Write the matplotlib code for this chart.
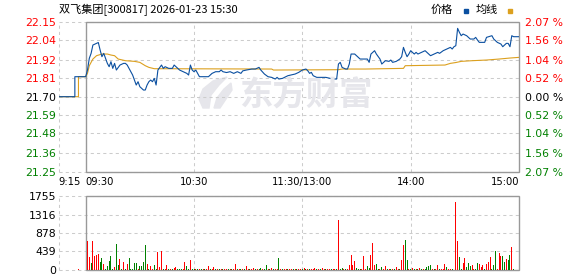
import matplotlib
matplotlib.use("Agg")
import matplotlib.pyplot as plt
from matplotlib.patches import Rectangle, Polygon

plt.rcParams['font.family'] = ['DejaVu Sans', 'Noto Sans CJK SC']

title = "双飞集团[300817] 2026-01-23 15:30"
prev_close = 21.70

# minutes counted from 9:15 (lunch break removed)
time_ticks = [0, 15, 75, 135, 195, 255]
time_labels = ["9:15", "09:30", "10:30", "11:30/13:00", "14:00", "15:00"]

price_ticks = [21.25, 21.36, 21.48, 21.59, 21.70, 21.81, 21.92, 22.04, 22.15]
pct_labels = ["2.07", "1.56", "1.04", "0.52", "0.00", "0.52", "1.04", "1.56", "2.07"]

vol_ticks = [0, 439, 878, 1316, 1755]

# price line (minute, price)
price_t = [0, 9, 9, 15, 16, 17, 18, 19, 21, 22, 23, 24, 25, 26, 27, 28, 29, 30, 31, 32,
           34, 36, 37, 38, 39, 40, 41, 42, 43, 44, 45, 46, 47, 48, 49, 50, 51, 52, 53, 54,
           55, 57, 58, 59, 61, 63, 64, 65, 67, 69, 71, 72, 73, 74, 75, 76, 77, 78, 83, 85,
           87, 89, 90, 91, 93, 95, 97, 99, 101, 102, 104, 107, 109, 111, 112, 114, 116, 118, 120, 121,
           122, 124, 127, 131, 133, 135, 137, 138, 139, 140, 141, 143, 148, 152, 154, 155, 156, 157, 159, 160,
           161, 162, 164, 166, 167, 171, 172, 173, 175, 176, 178, 179, 181, 183, 184, 185, 187, 189, 190, 191,
           192, 193, 194, 195, 196, 197, 198, 199, 201, 203, 204, 206, 208, 210, 211, 213, 215, 217, 218, 219,
           220, 221, 222, 223, 224, 226, 228, 230, 231, 232, 233, 236, 237, 240, 241, 243, 245, 246, 248, 249,
           250, 251, 252, 253, 255]
price_v = [21.70, 21.70, 21.82, 21.82, 21.86, 21.93, 21.96, 22.01, 22.02, 22.025, 21.98, 21.94, 21.96, 21.93, 21.90, 21.88, 21.91, 21.87, 21.90, 21.86,
           21.89, 21.90, 21.90, 21.89, 21.87, 21.85, 21.83, 21.80, 21.77, 21.79, 21.76, 21.75, 21.74, 21.74, 21.77, 21.79, 21.80, 21.79, 21.81, 21.77,
           21.86, 21.89, 21.87, 21.88, 21.87, 21.87, 21.89, 21.88, 21.86, 21.85, 21.84, 21.83, 21.89, 21.86, 21.85, 21.86, 21.84, 21.82, 21.82, 21.84,
           21.85, 21.85, 21.86, 21.85, 21.845, 21.85, 21.84, 21.85, 21.84, 21.855, 21.86, 21.866, 21.866, 21.876, 21.86, 21.836, 21.82, 21.816, 21.806, 21.816,
           21.806, 21.81, 21.826, 21.836, 21.846, 21.86, 21.866, 21.856, 21.84, 21.846, 21.826, 21.816, 21.816, 21.806, 21.806, 21.896, 21.906, 21.876, 21.866, 21.866,
           21.896, 21.956, 21.956, 21.936, 21.926, 21.926, 21.906, 21.956, 21.976, 21.956, 21.926, 21.896, 21.916, 21.912, 21.92, 21.906, 21.912, 21.926, 21.94, 21.996,
           21.966, 21.94, 21.956, 21.976, 21.966, 21.956, 21.966, 21.956, 21.966, 21.976, 21.966, 21.946, 21.956, 21.966, 21.96, 21.976, 21.986, 21.996, 21.986, 22.0,
           22.006, 22.11, 22.086, 22.066, 22.076, 22.066, 22.046, 22.046, 22.056, 22.04, 22.026, 22.026, 22.056, 22.066, 22.046, 22.026, 22.016, 22.0, 22.02, 22.02,
           22.0, 22.066, 22.06, 22.06, 22.06]

# average price line
avg_t = [0, 11, 11, 15, 16, 17, 19, 21, 24, 27, 29, 31, 33, 37, 42, 45, 48, 50, 53, 118,
         119, 155, 157, 170, 191, 192, 214, 217, 220, 223, 229, 237, 244, 250, 255]
avg_v = [21.70, 21.70, 21.82, 21.82, 21.84, 21.886, 21.926, 21.946, 21.956, 21.956, 21.95, 21.946, 21.926, 21.916, 21.912, 21.906, 21.886, 21.876, 21.868, 21.866,
         21.86, 21.862, 21.866, 21.866, 21.87, 21.886, 21.89, 21.90, 21.905, 21.912, 21.916, 21.92, 21.926, 21.932, 21.936]

# volume, one bar per minute from 9:31 (m=16) to 15:00 (m=255)
vol_auction_t = 11
vol_auction = 25
volume = [687, 300, 174, 687, 332, 355, 379, 190, 284, 142,
          25, 95, 213, 332, 25, 71, 616, 118, 268, 25,
          190, 25, 142, 284, 25, 25, 174, 174, 25, 95,
          95, 190, 592, 150, 25, 95, 25, 118, 25, 427,
          79, 450, 25, 25, 110, 25, 25, 25, 47, 63,
          25, 25, 25, 25, 190, 95, 25, 237, 25, 25,
          25, 25, 25, 25, 25, 25, 25, 87, 25, 25,
          60, 25, 25, 25, 25, 25, 25, 25, 25, 25,
          25, 25, 142, 25, 25, 25, 25, 25, 95, 25,
          25, 25, 40, 25, 25, 25, 40, 25, 25, 118,
          25, 25, 40, 25, 25, 25, 284, 25, 25, 25,
          25, 25, 25, 25, 25, 25, 25, 25, 25, 25,
          47, 25, 25, 25, 25, 25, 40, 25, 25, 25,
          40, 25, 25, 25, 25, 25, 25, 25, 25, 1185,
          25, 40, 25, 25, 25, 118, 355, 118, 213, 40,
          25, 25, 25, 332, 25, 95, 40, 355, 648, 118,
          142, 25, 25, 71, 25, 95, 25, 25, 25, 25,
          25, 71, 25, 25, 237, 592, 711, 237, 25, 25,
          47, 25, 25, 25, 47, 25, 25, 25, 63, 95,
          118, 25, 25, 25, 118, 25, 25, 25, 142, 63,
          25, 25, 25, 25, 1612, 687, 308, 25, 166, 284,
          71, 166, 95, 118, 25, 25, 166, 142, 71, 118,
          25, 142, 190, 308, 25, 118, 450, 25, 403, 332,
          332, 190, 261, 237, 355, 545, 25, 0, 0, 648]
# r = up minute, g = down minute
vol_dir = ("rrgrrrrggr" "gggggrggrg" "rgrgggggrg" "gggrgrrggr"
           "rrgrrgrgrr" "gggrrggrgg" "rgrgrgrrgr" "rgrgrgrrgr"
           "grrgrgrgrr" "grrgrggrgg" "rgrgrrgrgr" "rgrrgrgrrg"
           "rgrgrrrgrg" "rrgrrgrrgr" "ggrgrrrrrg" "ggrrrggrrr"
           "ggrgrrgrgr" "grrgrrggrg" "rgrgrgrggg" "grgrrgrrrg"
           "rrgrrrggrr" "gggrrggrrr" "grrrgggrrr" "ggrggrgrrr")

red = "#ff0000"
green = "#008000"
grid_c = "#cccccc"
frame_c = "#999999"
blue = "#0a4fa0"
orange = "#dca01e"
wm_c = "#e6e6eb"

fig = plt.figure(figsize=(5.78, 2.76), dpi=100)
W, H = 578.0, 276.0
x0, x1 = 58.6, 519.0

ax = fig.add_axes([x0 / W, (H - 171.7) / H, (x1 - x0) / W, 150.0 / H])
axv = fig.add_axes([x0 / W, 6.0 / H, (x1 - x0) / W, 74.0 / H])

for a in (ax, axv):
    a.set_xlim(0, 255)
    for s in a.spines.values():
        s.set_visible(False)
    a.tick_params(length=0)
    a.set_facecolor("none")

# ---- watermark (logo swoosh + name), behind everything
def px(x, y):
    return (x / W, 1 - y / H)

fig.add_artist(Polygon([px(203, 108), px(199, 99), px(203, 89), px(213, 81), px(227, 77),
                        px(219, 85), px(211, 95), px(209, 108)],
                       closed=True, color=wm_c, transform=fig.transFigure, zorder=0))
fig.add_artist(Polygon([px(214, 108), px(217, 98), px(224, 89), px(231, 83), px(232, 90),
                        px(226, 99), px(220, 108)],
                       closed=True, color=wm_c, transform=fig.transFigure, zorder=0))
fig.text(239 / W, 1 - 96 / H, "东方财富", fontsize=24, fontweight="bold", color=wm_c,
         family=["Noto Sans CJK SC"], ha="left", va="center", zorder=0)

# ---- price panel
ax.set_ylim(price_ticks[0], price_ticks[-1])
for p in price_ticks:
    ax.plot([0, 255], [p, p], color=grid_c, lw=0.75, ls=(0, (3, 3)), zorder=1, clip_on=False)
for t in [0, 75, 135, 195]:
    ax.plot([t, t], [price_ticks[0], price_ticks[-1]], color=grid_c, lw=0.75, ls=(0, (3, 3)), zorder=1, clip_on=False)
ax.add_patch(Rectangle((15, price_ticks[0]), 240, price_ticks[-1] - price_ticks[0],
                       fill=False, edgecolor=frame_c, lw=1.0, zorder=2, clip_on=False))

ax.plot(avg_t, avg_v, color=orange, lw=0.8, zorder=3)
ax.plot(price_t, price_v, color=blue, lw=0.8, zorder=4)

ax.set_yticks(price_ticks)
ax.set_yticklabels(["%.2f" % p for p in price_ticks], fontsize=7.8)
for lab, p in zip(ax.get_yticklabels(), price_ticks):
    lab.set_color(red if p > prev_close + 1e-6 else (green if p < prev_close - 1e-6 else "#000000"))
ax.tick_params(axis="y", pad=2)

ax.set_xticks(time_ticks)
ax.set_xticklabels(time_labels, fontsize=7.2)
ax.tick_params(axis="x", pad=4)
for i, lab in enumerate(ax.get_xticklabels()):
    if i < 2:
        lab.set_ha("left")
    elif i == len(time_labels) - 1:
        lab.set_ha("right")

axr = ax.twinx()
axr.set_ylim(price_ticks[0], price_ticks[-1])
axr.set_facecolor("none")
for s in axr.spines.values():
    s.set_visible(False)
axr.tick_params(length=0, pad=4)
axr.set_yticks(price_ticks)
axr.set_yticklabels([v + " %" for v in pct_labels], fontsize=7.8)
for lab, p in zip(axr.get_yticklabels(), price_ticks):
    lab.set_color(red if p > prev_close + 1e-6 else (green if p < prev_close - 1e-6 else "#000000"))

# ---- volume panel
axv.set_ylim(0, vol_ticks[-1])
for v in vol_ticks:
    axv.plot([0, 255], [v, v], color=grid_c, lw=0.75, ls=(0, (3, 3)), zorder=1, clip_on=False)
for t in [0, 75, 135, 195]:
    axv.plot([t, t], [0, vol_ticks[-1]], color=grid_c, lw=0.75, ls=(0, (3, 3)), zorder=1, clip_on=False)
axv.add_patch(Rectangle((15, 0), 240, vol_ticks[-1], fill=False, edgecolor=frame_c,
                        lw=1.0, zorder=2, clip_on=False))
bar_t = list(range(16, 16 + len(volume)))
bar_c = [red if d == "r" else green for d in vol_dir[:len(volume)]]
axv.bar(bar_t, volume, width=0.55, color=bar_c, zorder=3)
axv.bar([vol_auction_t], [vol_auction], width=0.55, color=red, zorder=3)
axv.set_yticks(vol_ticks)
axv.set_yticklabels([str(v) for v in vol_ticks], fontsize=7.8, color="#000000")
axv.tick_params(axis="y", pad=2)
axv.set_xticks([])

# ---- title and legend
fig.text(x0 / W, 1 - 10 / H, title, fontsize=8, family=["Noto Sans CJK SC", "DejaVu Sans"],
         ha="left", va="center")
fig.text(431 / W, 1 - 10 / H, "价格", fontsize=8, family=["Noto Sans CJK SC"], ha="left", va="center")
fig.text(476 / W, 1 - 10 / H, "均线", fontsize=8, family=["Noto Sans CJK SC"], ha="left", va="center")
fig.add_artist(Rectangle((463.5 / W, 1 - 12.5 / H), 4 / W, 3 / H, color=blue, transform=fig.transFigure))
fig.add_artist(Rectangle((507.5 / W, 1 - 12.5 / H), 4 / W, 3 / H, color=orange, transform=fig.transFigure))

fig.savefig("out.png", dpi=100)
